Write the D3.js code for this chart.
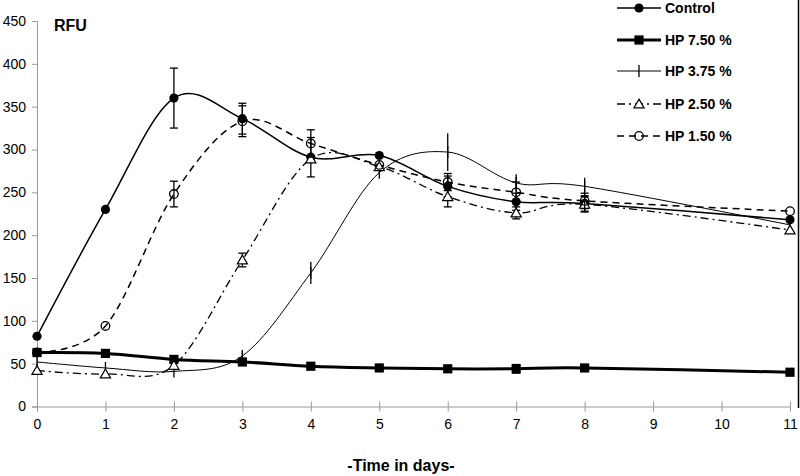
<!DOCTYPE html>
<html><head><meta charset="utf-8">
<script src="https://cdn.jsdelivr.net/npm/d3@7"></script>
<style>body{margin:0;background:#fff}svg{display:block;font-family:"Liberation Sans",Arial,sans-serif}</style>
</head><body><svg id="c" width="800" height="476"></svg>
<script>
const days = [0,1,2,3,4,5,6,7,8,11];
const xTicks = [0,1,2,3,4,5,6,7,8,9,10,11];
const yTicks = [0,50,100,150,200,250,300,350,400,450];
const control    = [82,230,360,336,291,293,257,239,237,218];
const controlErr = [0,0,35,18,23,0,12,10,9,0];
const hp750      = [63,62,55,52,47,45,44,44,45,40];
const hp750Err   = [0,0,0,0,0,0,0,5,0,0];
const hp375      = [52,45,41,59,156,273,297,261,257,212];
const hp375Err   = [0,0,0,6,13,0,22,10,10,0];
const hp250      = [42,38,48,171,289,280,245,226,236,206];
const hp250Err   = [0,0,0,8,0,0,12,7,9,0];
const hp150      = [63,94,248,333,307,282,262,250,240,228];
const hp150Err   = [0,0,15,18,16,0,10,12,9,0];
const names = ["Control","HP 7.50 %","HP 3.75 %","HP 2.50 %","HP 1.50 %"];

const series = [
  {name:names[0], v:control, e:controlErr, w:1.5, dash:null, marker:"dot", cap:true},
  {name:names[1], v:hp750, e:hp750Err, w:3, dash:null, marker:"square", cap:true},
  {name:names[2], v:hp375, e:hp375Err, w:1, dash:null, marker:"tick", cap:false},
  {name:names[3], v:hp250, e:hp250Err, w:1.3, dash:"8,4,2,4", marker:"tri", cap:true},
  {name:names[4], v:hp150, e:hp150Err, w:1.5, dash:"7,5", marker:"ring", cap:true}
];

const svg = d3.select("#c");
const x = d3.scaleLinear().domain([0,11]).range([37,790]);
const y = d3.scaleLinear().domain([0,450]).range([406.5,21]);
const axisCol = "#999";

// y axis
const ya = svg.append("g").attr("transform","translate(37,0)")
  .call(d3.axisLeft(y).tickValues(yTicks).tickSize(5).tickPadding(6));
ya.select(".domain").attr("stroke",axisCol);
ya.selectAll(".tick line").attr("stroke",axisCol);
ya.selectAll(".tick text").attr("font-size",14).attr("fill","#000").attr("font-family","Liberation Sans, Arial");

// x axis
const xa = svg.append("g").attr("transform","translate(0,406.5)")
  .call(d3.axisBottom(x).tickValues(xTicks).tickSize(5).tickPadding(8).tickSizeOuter(0));
xa.select(".domain").attr("stroke",axisCol);
xa.selectAll(".tick line").attr("stroke",axisCol).attr("y1",-5).attr("y2",5);
xa.selectAll(".tick text").attr("font-size",14).attr("fill","#000").attr("font-family","Liberation Sans, Arial");

// right border
svg.append("line").attr("x1",798.5).attr("x2",798.5).attr("y1",0).attr("y2",408).attr("stroke","#000").attr("stroke-width",1.5);

svg.append("text").attr("x",54).attr("y",31).attr("font-size",16).attr("font-weight","bold").text("RFU");
svg.append("text").attr("x",401).attr("y",471).attr("text-anchor","middle").attr("font-size",16).attr("font-weight","bold").text("-Time in days-");

const line = d3.line().x((d,i)=>x(days[i])).y(d=>y(d)).curve(d3.curveCardinal.tension(0));

function drawMarker(g, type, cx, cy){
  if(type==="dot") g.append("circle").attr("cx",cx).attr("cy",cy).attr("r",4.6).attr("fill","#000");
  else if(type==="square") g.append("rect").attr("x",cx-4.6).attr("y",cy-4.6).attr("width",9.2).attr("height",9.2).attr("fill","#000");
  else if(type==="tick") g.append("line").attr("x1",cx).attr("x2",cx).attr("y1",cy-6).attr("y2",cy+6).attr("stroke","#000").attr("stroke-width",1.3);
  else if(type==="tri") g.append("path").attr("d",d3.symbol(d3.symbolTriangle,45)()).attr("transform",`translate(${cx},${cy+1})`).attr("fill","#fff").attr("stroke","#000").attr("stroke-width",1.2);
  else if(type==="ring") g.append("circle").attr("cx",cx).attr("cy",cy).attr("r",4.3).attr("fill","none").attr("stroke","#000").attr("stroke-width",1.3);
}

series.forEach(s=>{
  svg.append("path").datum(s.v).attr("d",line).attr("fill","none").attr("stroke","#000")
    .attr("stroke-width",s.w).attr("stroke-dasharray",s.dash);
});
series.forEach(s=>{
  const g = svg.append("g");
  s.v.forEach((v,i)=>{
    const e = s.e[i];
    if(e>0){
      const cx = x(days[i]);
      g.append("line").attr("x1",cx).attr("x2",cx).attr("y1",y(v+e)).attr("y2",y(v-e)).attr("stroke","#000").attr("stroke-width",1.3);
      if(s.cap){
        [v+e,v-e].forEach(t=>g.append("line").attr("x1",cx-4).attr("x2",cx+4).attr("y1",y(t)).attr("y2",y(t)).attr("stroke","#000").attr("stroke-width",1.3));
      }
    }
  });
  s.v.forEach((v,i)=>drawMarker(g,s.marker,x(days[i]),y(v)));
});

// legend
const legY = [8,40,71,104,136];
series.forEach((s,i)=>{
  const g = svg.append("g");
  const ly = legY[i];
  g.append("line").attr("x1",617).attr("x2",661).attr("y1",ly).attr("y2",ly).attr("stroke","#000")
    .attr("stroke-width",s.w).attr("stroke-dasharray",s.dash);
  drawMarker(g,s.marker,639,ly);
  g.append("text").attr("x",665).attr("y",ly+5).attr("font-size",14).attr("font-weight","bold").text(s.name);
});
</script></body></html>
